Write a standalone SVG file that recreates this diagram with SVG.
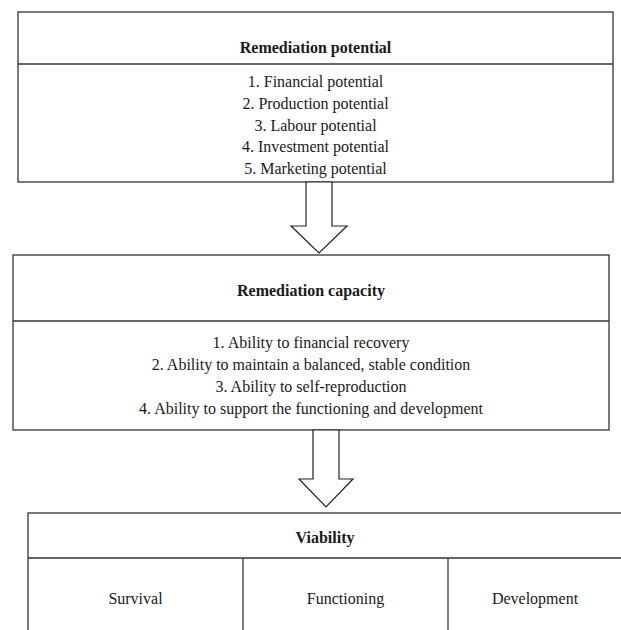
<svg xmlns="http://www.w3.org/2000/svg" width="621" height="630" viewBox="0 0 621 630">
<style>
.box{fill:#fff;stroke:#333;stroke-width:1.3}
.ln{stroke:#333;stroke-width:1.3;fill:none}
.arr{fill:#fff;stroke:#222;stroke-width:1.2;stroke-linejoin:miter}
text{font-family:"Liberation Serif","Times New Roman",serif;font-size:16px;fill:#1a1a1a;text-anchor:middle}
.h{font-weight:bold}
</style>
<rect width="621" height="630" fill="#fff"/>
<g id="potential">
<rect class="box" x="18" y="12" width="595" height="170"/>
<line class="ln" x1="18" y1="64" x2="613" y2="64"/>
<text class="h" x="315.5" y="53">Remediation potential</text>
<text x="315.5" y="87">1. Financial potential</text>
<text x="315.5" y="109">2. Production potential</text>
<text x="315.5" y="131">3. Labour potential</text>
<text x="315.5" y="152">4. Investment potential</text>
<text x="315.5" y="174">5. Marketing potential</text>
</g>
<g id="capacity">
<rect class="box" x="13" y="255" width="596" height="175"/>
<line class="ln" x1="13" y1="321" x2="609" y2="321"/>
<text class="h" x="311" y="296">Remediation capacity</text>
<text x="311" y="348">1. Ability to financial recovery</text>
<text x="311" y="370">2. Ability to maintain a balanced, stable condition</text>
<text x="311" y="392">3. Ability to self-reproduction</text>
<text x="311" y="414">4. Ability to support the functioning and development</text>
</g>
<g id="viability">
<rect class="box" x="28" y="513" width="594" height="130"/>
<line class="ln" x1="28" y1="558" x2="622" y2="558"/>
<line class="ln" x1="243" y1="558" x2="243" y2="632"/>
<line class="ln" x1="448" y1="558" x2="448" y2="632"/>
<text class="h" x="325" y="543">Viability</text>
<text x="135.5" y="604">Survival</text>
<text x="345.5" y="604">Functioning</text>
<text x="535" y="604">Development</text>
</g>
<g id="connectors">
<polygon class="arr" points="306,182 332,182 332,226 347,226 319,253 291,226 306,226"/>
<polygon class="arr" points="313,430 339,430 339,479 353,479 326,507 299,479 313,479"/>
</g>
</svg>
